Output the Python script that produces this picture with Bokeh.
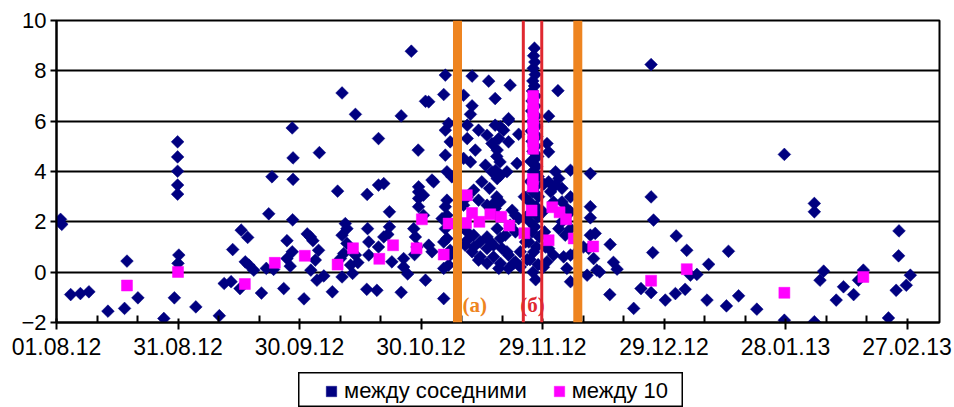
import numpy as np
from bokeh.plotting import figure
from bokeh.layouts import column, row
from bokeh.models import (FixedTicker, Span, Legend, LegendItem, Label, ColumnDataSource,
                          Spacer)
from bokeh.embed import file_html
from bokeh.resources import INLINE

# Days are counted from 01.08.12
tick_days = [0, 30, 60, 90, 120, 150, 180, 210]
tick_labels = ["01.08.12", "31.08.12", "30.09.12", "30.10.12",
               "29.11.12", "29.12.12", "28.01.13", "27.02.13"]
minor_days = [d for d in range(0, 218, 10) if d not in tick_days]
y_ticks = [-2, 0, 2, 4, 6, 8, 10]

# (day, value) of the interval between adjacent events
adj_aug = [(1.0, 2.1), (1.3, 1.9), (3.5, -0.89), (5.9, -0.85), (8.0, -0.78), (12.7, -1.55),
           (16.8, -1.44), (17.4, 0.44), (20.1, -1.02), (26.5, -1.84), (29.1, -1.02),
           (29.9, 5.18), (29.9, 4.58), (29.9, 4.01), (29.9, 3.46), (29.9, 3.10),
           (30.2, 0.68), (30.0, 0.35)]
adj_sep = [(34.4, -1.38), (40.2, -1.73), (41.4, -0.45), (43.1, -0.38), (43.5, 0.9), (45.6, 1.67),
           (47.2, 1.38), (46.6, 0.41), (47.5, 0.28), (48.7, 0.08), (45.3, -0.65), (50.6, -0.83),
           (51.8, 0.15), (53.6, 0.11), (52.4, 2.32), (53.2, 3.79), (56.1, -0.65), (56.9, 1.25),
           (56.9, 0.54), (57.7, 0.24), (58.2, 0.81), (58.2, 5.73), (58.4, 4.54), (58.4, 3.69),
           (58.3, 2.08)]
adj_oct = [(61.1, -1.06), (61.9, 1.52), (63.3, 1.25), (62.8, 0.08), (64.3, -0.32), (64.7, 0.87),
           (62.7, 1.4), (63.9, 0.48), (64.9, 4.75), (66.0, -0.15), (68.1, -0.78), (69.4, 3.22),
           (70.5, 7.12), (71.3, 1.93), (71.7, 1.73), (70.5, 1.47), (70.9, 0.74), (70.1, 0.54),
           (72.6, 0.28), (70.5, -0.19), (71.7, 1.14), (73.1, -0.05), (73.8, 6.27), (73.8, 0.68),
           (74.4, 0.38), (76.7, 3.09), (76.8, 1.73), (77.1, 1.2), (77.1, 0.68), (76.6, -0.68),
           (79.1, -0.72), (79.5, 5.31), (79.5, 3.46), (80.8, 3.52), (79.5, 1.0), (80.8, 1.4),
           (81.8, 1.5), (82.2, 2.4), (82.2, 1.8), (82.8, 0.41), (85.1, 6.21), (85.1, -0.8),
           (85.7, 0.54), (85.7, 0.21), (86.7, -0.07), (87.6, 8.78), (89.3, 4.85), (89.4, 3.39),
           (89.4, 3.19), (89.4, 2.93), (89.4, 2.6), (91.1, 6.79), (88.2, 1.73), (88.6, 1.4),
           (89.0, 1.0), (88.4, 0.7), (91.1, -0.32)]
adj_nov1 = [(96.0, 7.83), (95.6, 7.06), (91.9, 6.77), (96.0, 5.64), (96.8, 5.91), (97.2, 5.18),
            (96.0, 4.65), (96.4, 3.99), (97.6, 3.79), (92.7, 3.66), (93.1, 3.59), (90.6, 3.06),
            (96.4, 2.86), (96.0, 2.6), (96.4, 2.26), (95.2, 2.13), (96.0, 1.73), (95.6, 1.2),
            (97.2, 0.68), (96.8, 0.28), (95.6, 0.15), (91.9, 1.07), (92.7, 0.81), (95.6, -1.05),
            (90.6, 2.26), (96.4, 1.34), (97.2, 0.87)]
adj_nov2 = [(102.6, 7.79), (106.7, 7.59), (108.3, 6.9), (100.5, 7.03), (102.6, 6.61), (102.2, 6.27),
            (101.4, 5.84), (104.2, 5.64), (101.4, 5.31), (107.5, 5.11), (103.4, 4.85), (108.8, 4.85),
            (100.5, 4.52), (102.2, 4.38), (105.9, 4.25), (107.5, 3.99), (108.8, 3.72), (105.0, 3.59),
            (106.9, 3.33), (103.0, 3.26), (101.4, 2.99), (100.5, 2.66), (104.2, 2.86), (106.3, 2.66),
            (108.3, 2.79), (100.5, 1.87), (101.4, 1.6), (103.0, 1.47), (100.9, 1.07), (102.6, 0.81),
            (104.6, 0.61), (106.3, 0.94), (107.1, 1.2), (108.3, 5.84), (106.3, 5.44), (108.8, 2.26),
            (108.8, 1.73), (101.4, 1.27), (103.0, 1.0), (104.6, 1.2), (106.3, 1.4), (107.9, 1.07),
            (109.6, 1.34), (104.2, 0.48), (106.3, 0.35), (107.9, 0.61), (109.6, 0.35)]
adj_nov3 = [(112.0, 7.43), (123.8, 7.21), (121.5, 6.2), (111.6, 6.1), (110.4, 5.64), (109.2, 5.31),
            (114.1, 5.48), (111.6, 5.18), (121.1, 5.11), (121.5, 4.78), (108.7, 4.6), (109.5, 4.38),
            (113.7, 4.32), (108.4, 4.05), (109.6, 3.85), (111.2, 3.99), (123.2, 3.99), (124.0, 3.72),
            (124.8, 3.33), (123.2, 3.46), (121.5, 3.59), (122.0, 3.2), (108.7, 2.99), (109.5, 2.79),
            (108.3, 2.53), (112.5, 2.46), (113.3, 2.26), (112.0, 1.87), (113.3, 1.6), (110.8, 1.47),
            (114.1, 2.13), (110.0, 0.94), (111.6, 0.68), (113.3, 0.41), (111.6, 0.15), (109.2, 0.15),
            (114.5, 0.21), (121.5, 0.94), (122.7, 0.68), (121.1, 0.41), (124.0, 1.73), (125.6, 1.47),
            (124.8, 2.0), (126.9, -0.38), (122.7, 2.79), (124.8, 2.79), (126.0, 2.53), (111.2, 0.81),
            (112.9, 0.35), (114.5, 0.81), (120.7, 1.0), (125.2, 0.61), (126.0, 0.15), (109.6, 5.77),
            (111.6, 6.04), (115.5, 3.0), (116.0, 2.2), (115.8, 1.2), (116.2, 0.5), (120.3, 3.5),
            (120.1, 2.4), (120.5, 1.6), (120.2, 0.2)]
adj_peak = [(118.0, 8.9), (117.8, 8.6), (118.1, 8.35), (117.7, 8.1), (118.2, 7.85), (117.6, 7.6),
            (118.0, 7.4), (117.5, 7.2), (118.3, 7.0), (117.4, 6.8), (118.2, 6.6), (117.3, 6.4),
            (118.4, 6.2), (117.5, 6.0), (118.5, 5.8), (117.2, 5.6), (118.6, 5.4), (117.4, 5.2),
            (118.3, 5.0), (117.6, 4.8), (118.8, 4.6), (117.1, 4.4), (118.5, 4.2), (117.6, 4.0),
            (118.9, 3.8), (117.0, 3.6), (118.2, 3.4), (117.5, 3.2), (119.0, 3.0), (116.8, 2.8),
            (118.4, 2.6), (117.3, 2.4), (118.8, 2.2), (116.9, 2.0), (118.1, 1.8), (117.4, 1.6),
            (119.2, 1.4), (116.6, 1.2), (118.5, 1.0), (117.8, 0.8), (116.9, 0.5), (118.9, 0.3),
            (117.6, 0.0), (118.3, -0.3)]
adj_dec = [(126.9, 4.05), (126.9, 2.99), (126.9, 2.4), (126.9, 1.73), (126.9, 0.68), (131.8, 3.92),
           (131.8, 2.6), (131.8, 2.16), (133.0, 1.54), (132.6, 0.54), (131.4, 0.94), (134.1, 0.01),
           (131.0, -0.12), (136.7, 1.1), (137.5, 0.39), (138.4, 0.12), (136.6, -0.89), (128.1, 0.74),
           (130.1, 1.0), (131.8, 1.47), (133.4, 0.08)]
adj_late = [(146.8, 8.25), (146.8, 2.99), (147.4, 2.07), (153.0, 1.44), (155.6, 0.87), (147.2, 0.78),
            (156.5, -0.12), (158.1, -0.09), (161.0, 0.31), (144.3, -0.65), (146.8, -0.81),
            (142.5, -1.44), (150.3, -1.11), (152.8, -0.85), (155.2, -0.68), (160.6, -1.11),
            (179.7, 4.68), (187.1, 2.73), (187.1, 2.4), (208.0, 1.64), (207.9, 0.65), (165.9, 0.83),
            (189.4, 0.04), (188.5, -0.32), (199.2, 0.08), (198.0, -0.32), (210.8, -0.12),
            (209.8, -0.52), (207.3, -0.72), (165.4, -1.34), (168.4, -0.94), (172.9, -1.47),
            (194.3, -0.58), (196.8, -0.89), (192.5, -1.11), (205.4, -1.82), (179.7, -1.91),
            (187.1, -1.97)]

# (day, value) of the interval over 10 events
avg_points = [(17.4, -0.53), (30.0, 0.01), (46.5, -0.47), (53.9, 0.37), (61.3, 0.65), (69.4, 0.30),
              (73.2, 0.95), (79.7, 0.53), (83.1, 1.07), (88.9, 0.95), (90.2, 2.1), (95.6, 0.70),
              (96.8, 1.93), (101.3, 3.06), (102.6, 2.35), (101.1, 1.95), (104.4, 2.0), (107.1, 2.3),
              (109.8, 2.2), (111.8, 1.85), (115.5, 1.55), (117.3, 2.45), (117.6, 3.4), (117.6, 3.7),
              (117.7, 4.9), (117.7, 5.2), (117.7, 5.5), (117.7, 5.8), (117.7, 6.1), (117.7, 6.4),
              (117.7, 6.7), (117.7, 7.0), (121.5, 1.27), (122.4, 2.58), (124.2, 2.38), (125.8, 2.1),
              (127.7, 1.34), (132.5, 1.02), (146.8, -0.34), (155.6, 0.12), (179.7, -0.82),
              (199.2, -0.19)]

series_names = ["между соседними", "между 10"]

# Marked periods
period_a_days = [99.0, 128.7]
period_b_days = [115.25, 119.8]

NAVY = "#000080"
MAGENTA = "#FF00FF"
ORANGE = "#EE8420"
RED = "#E02830"
SANS = "Liberation Sans"
SERIF = "Liberation Serif"

adj = adj_aug + adj_sep + adj_oct + adj_nov1 + adj_nov2 + adj_nov3 + adj_peak + adj_dec + adj_late
adj_src = ColumnDataSource(dict(day=[a[0] for a in adj], val=[a[1] for a in adj]))
avg_src = ColumnDataSource(dict(day=[a[0] for a in avg_points], val=[a[1] for a in avg_points]))

adj_style = dict(marker="square", angle=np.pi / 4, size=9, fill_color=NAVY, line_color=NAVY,
                 line_width=0.5)
avg_style = dict(marker="square", size=11, fill_color=MAGENTA, line_color=MAGENTA,
                 line_width=0.5)

# ---- main chart ----
p = figure(width=954, height=372, x_range=(0, 218), y_range=(-2, 10),
           output_backend="svg", toolbar_location=None,
           min_border_left=56, min_border_right=15, min_border_top=20, min_border_bottom=50)
p.background_fill_color = "white"
p.border_fill_color = "white"
p.outline_line_color = "black"
p.outline_line_width = 2

p.xgrid.grid_line_color = None
p.ygrid.grid_line_color = "black"
p.ygrid.grid_line_width = 2
p.ygrid.ticker = FixedTicker(ticks=y_ticks)

p.xaxis.ticker = FixedTicker(ticks=tick_days, minor_ticks=minor_days)
p.xaxis.major_label_overrides = {d: s for d, s in zip(tick_days, tick_labels)}
p.xaxis.major_tick_in = 4
p.xaxis.major_tick_out = 7
p.xaxis.minor_tick_in = 7
p.xaxis.minor_tick_out = 0
p.xaxis.major_label_standoff = 8

p.yaxis.ticker = FixedTicker(ticks=y_ticks)
p.yaxis.major_tick_in = 0
p.yaxis.major_tick_out = 6
p.yaxis.major_label_standoff = 4

for ax in (p.xaxis, p.yaxis):
    ax.axis_line_color = "black"
    ax.axis_line_width = 2
    ax.major_tick_line_color = "black"
    ax.major_tick_line_width = 2
    ax.minor_tick_line_color = "black"
    ax.minor_tick_line_width = 2
    ax.major_label_text_font = SANS
    ax.major_label_text_color = "black"
p.xaxis.major_label_text_font_size = "23px"
p.yaxis.major_label_text_font_size = "22px"
p.yaxis.minor_tick_line_color = None

p.scatter("day", "val", source=adj_src, **adj_style)
p.scatter("day", "val", source=avg_src, **avg_style)

for d in period_a_days:
    p.add_layout(Span(location=d, dimension="height", line_color=ORANGE, line_width=9))
for d in period_b_days:
    p.add_layout(Span(location=d, dimension="height", line_color=RED, line_width=3))

p.add_layout(Label(x=period_a_days[0], y=-2, x_offset=5, y_offset=6, text="(а)",
                   text_font=SERIF, text_font_style="bold", text_font_size="21px",
                   text_color=ORANGE, text_align="left", text_baseline="bottom"))
p.add_layout(Label(x=sum(period_b_days) / 2, y=-2, y_offset=6, text="(б)",
                   text_font=SERIF, text_font_style="bold", text_font_size="21px",
                   text_color=RED, text_align="center", text_baseline="bottom"))

# ---- legend box under the chart ----
lg = figure(width=385, height=35, x_range=(0, 1), y_range=(0, 1),
            output_backend="svg", toolbar_location=None,
            min_border_left=0, min_border_right=0, min_border_top=0, min_border_bottom=0)
lg.axis.visible = False
lg.grid.visible = False
lg.outline_line_color = "black"
lg.outline_line_width = 2
lg.background_fill_color = "white"
lg.border_fill_color = "white"
# one point each, parked outside the visible range, so the legend has glyphs to draw
lg_adj = lg.scatter(x=[-5], y=[-5], **adj_style)
lg_avg = lg.scatter(x=[-5], y=[-5], **avg_style)

legend = Legend(items=[LegendItem(label=series_names[0], renderers=[lg_adj]),
                       LegendItem(label=series_names[1], renderers=[lg_avg])],
                orientation="horizontal", location=(20, 1),
                label_text_font=SANS, label_text_font_size="22px", label_text_color="black",
                glyph_width=26, glyph_height=30, label_height=24, label_standoff=0,
                spacing=19, padding=0, margin=0, border_line_color=None,
                background_fill_alpha=0)
lg.add_layout(legend, "center")

layout = column(p, row(Spacer(width=298, height=35), lg))

open("out.html", "w").write(file_html(layout, INLINE))
